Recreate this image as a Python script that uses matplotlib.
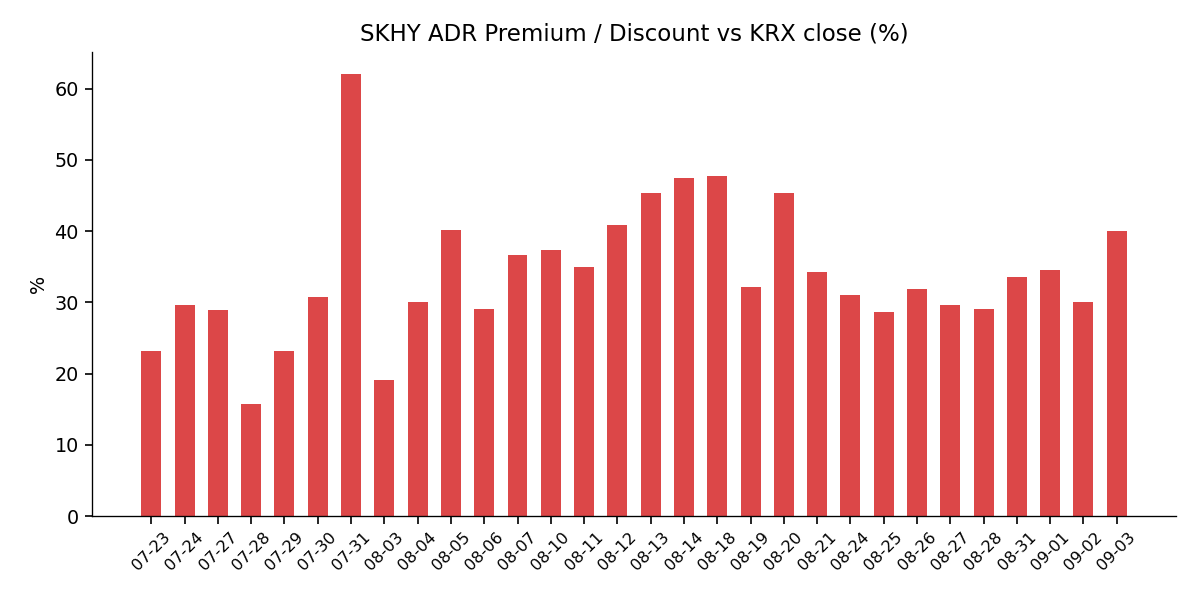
import matplotlib
matplotlib.use('Agg')
import matplotlib.pyplot as plt
import numpy as np

dates = ['07-23', '07-24', '07-27', '07-28', '07-29', '07-30', '07-31',
         '08-03', '08-04', '08-05', '08-06', '08-07', '08-10', '08-11',
         '08-12', '08-13', '08-14', '08-18', '08-19', '08-20', '08-21',
         '08-24', '08-25', '08-26', '08-27', '08-28', '08-31', '09-01',
         '09-02', '09-03']
premium = [23.1, 29.6, 28.9, 15.7, 23.1, 30.8, 62.0,
           19.1, 30.1, 40.1, 29.0, 36.6, 37.3, 35.0,
           40.8, 45.3, 47.5, 47.7, 32.1, 45.4, 34.3,
           31.0, 28.6, 31.8, 29.6, 29.0, 33.6, 34.5,
           30.1, 40.0]

fig, ax = plt.subplots(figsize=(10, 5), dpi=120)
x = np.arange(len(dates))
ax.bar(x, premium, width=0.6, color='tab:red', alpha=0.85)
ax.set_xticks(x)
ax.set_xticklabels(dates, rotation=45, fontsize=9.7)
ax.tick_params(axis='y', labelsize=11.5)
ax.tick_params(length=4.5, width=1.0)
ax.set_ylabel('%', fontsize=11.5)
ax.set_title('SKHY ADR Premium / Discount vs KRX close (%)', fontsize=13.75, pad=7)
ax.spines['top'].set_visible(False)
ax.spines['right'].set_visible(False)
plt.subplots_adjust(left=0.0767, right=0.98, top=0.913, bottom=0.14)
plt.savefig('out.png')
